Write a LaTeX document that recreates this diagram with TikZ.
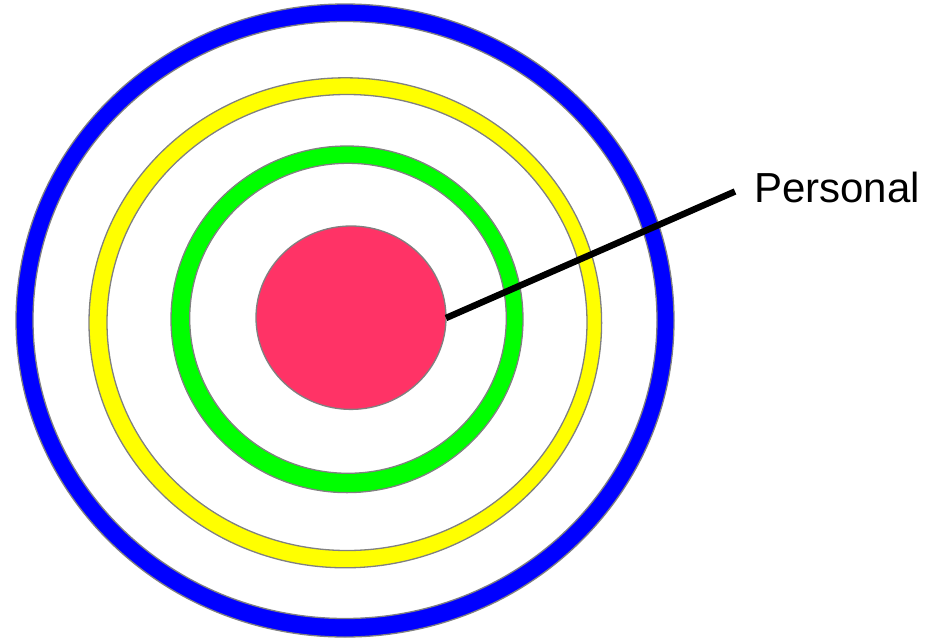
\documentclass[tikz,border=0pt]{standalone}
\usepackage{fontspec}
\setmainfont{Liberation Sans}
\definecolor{ringblue}{HTML}{0000FF}
\definecolor{ringyellow}{HTML}{FFFF00}
\definecolor{ringgreen}{HTML}{00FF00}
\definecolor{corered}{HTML}{FF3366}
\definecolor{edgegray}{HTML}{808080}
\begin{document}
\begin{tikzpicture}[x=1pt,y=-1pt,
  edge/.style={draw=edgegray,line width=1.3pt},
  ring/.style={edge,even odd rule}]
\useasboundingbox (0,0) rectangle (940,640);
% blue ring
\path[ring,fill=ringblue] (345,320.5) ellipse [x radius=329,y radius=316.5]
  (345,320) ellipse [x radius=312,y radius=298.5];
% yellow ring
\path[ring,fill=ringyellow] (345.3,322.8) ellipse [x radius=256.3,y radius=245]
  (347,322.5) ellipse [x radius=240,y radius=228];
% green ring
\path[ring,fill=ringgreen] (347,319.3) ellipse [x radius=176,y radius=173.3]
  (348,318.3) ellipse [x radius=158.3,y radius=155];
% red core
\path[edge,fill=corered] (351,317.7) ellipse [x radius=95,y radius=91.7];
\coordinate (core) at (446,318);
\coordinate (tip) at (735,191.5);
\node[anchor=base west,inner sep=0pt,font=\fontsize{42}{42}\selectfont] (lab) at (754,202) {Personal};
\draw[line width=6.5pt,line cap=butt] (core) -- (tip);
\end{tikzpicture}
\end{document}
